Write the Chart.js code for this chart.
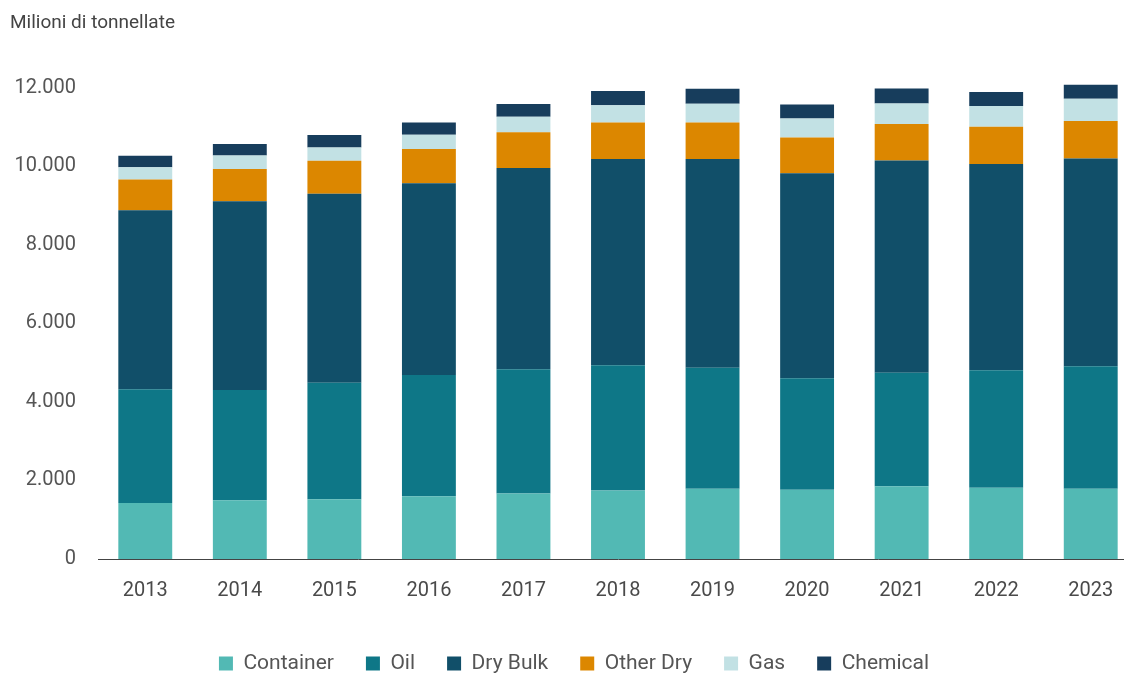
<!DOCTYPE html>
<html lang="it">
<head>
<meta charset="utf-8">
<title>Traffico marittimo per tipo di carico</title>
<script src="https://cdn.jsdelivr.net/npm/chart.js@4/dist/chart.umd.min.js"></script>
<style>
  html, body { margin: 0; padding: 0; background: #fff; overflow: hidden; }
  #wrap { position: relative; width: 1138px; height: 690px; }
</style>
</head>
<body>
<div id="wrap"><canvas id="cargoChart"></canvas></div>
<script>
// Seaborne trade by cargo type, million tonnes
const years = ['2013', '2014', '2015', '2016', '2017', '2018', '2019', '2020', '2021', '2022', '2023'];

const container = [1425, 1495, 1520, 1595, 1665, 1745, 1790, 1765, 1850, 1815, 1790];
const oil       = [2895, 2810, 2970, 3090, 3165, 3190, 3080, 2835, 2895, 2990, 3120];
const dryBulk   = [4560, 4805, 4810, 4885, 5130, 5250, 5315, 5225, 5405, 5255, 5290];
const otherDry  = [785, 825, 845, 870, 905, 930, 930, 910, 925, 945, 955];
const gas       = [310, 340, 335, 365, 400, 440, 480, 480, 525, 530, 565];
const chemical  = [295, 295, 320, 310, 320, 365, 380, 360, 380, 360, 360];

const yTicks = [0, 2000, 4000, 6000, 8000, 10000, 12000];

const FONT = 'Roboto, "Noto Sans", sans-serif';
const TEXT = '#555555';

// thousands separator in the Italian style: 12000 -> 12.000
function fmt(v) {
    return String(v).replace(/\B(?=(\d{3})+(?!\d))/g, '.');
}

function series(label, data, color) {
    return {
        label: label,
        data: data,
        backgroundColor: color,
        borderWidth: 0,
        barPercentage: 0.57,
        categoryPercentage: 1.0,
        clip: false
    };
}

const ctx = document.getElementById('cargoChart').getContext('2d');
new Chart(ctx, {
    type: 'bar',
    data: {
        labels: years,
        datasets: [
            series('Container', container, '#52b9b4'),
            series('Oil', oil, '#0e7787'),
            series('Dry Bulk', dryBulk, '#114f69'),
            series('Other Dry', otherDry, '#dc8700'),
            series('Gas', gas, '#c2e1e4'),
            series('Chemical', chemical, '#173d5c')
        ]
    },
    options: {
        responsive: true,
        maintainAspectRatio: false,
        animation: false,
        layout: {
            padding: { left: 10, right: 0, top: 0, bottom: 6 }
        },
        plugins: {
            title: {
                display: true,
                text: 'Milioni di tonnellate',
                align: 'start',
                color: '#444444',
                font: { family: FONT, size: 19, weight: 'normal' },
                padding: { top: 12, bottom: 53 }
            },
            legend: {
                position: 'bottom',
                labels: {
                    color: TEXT,
                    font: { family: FONT, size: 21 },
                    boxWidth: 14,
                    boxHeight: 14,
                    padding: 32
                }
            },
            tooltip: { enabled: false }
        },
        scales: {
            x: {
                stacked: true,
                grid: { display: false, drawTicks: false },
                border: { display: true, color: '#444444', width: 1 },
                ticks: {
                    color: '#4a4a4a',
                    font: { family: FONT, size: 20 },
                    padding: 20,
                    maxRotation: 0
                },
                afterFit: (scale) => { scale.height = 62; }
            },
            y: {
                stacked: true,
                min: 0,
                max: 12000,
                grid: { display: false, drawTicks: false },
                border: { display: false },
                afterBuildTicks: (scale) => {
                    scale.ticks = yTicks.map(v => ({ value: v }));
                },
                ticks: {
                    color: TEXT,
                    font: { family: FONT, size: 20 },
                    padding: 22,
                    callback: (v) => fmt(v)
                },
                afterFit: (scale) => { scale.width = 88; }
            }
        }
    }
});
</script>
</body>
</html>
